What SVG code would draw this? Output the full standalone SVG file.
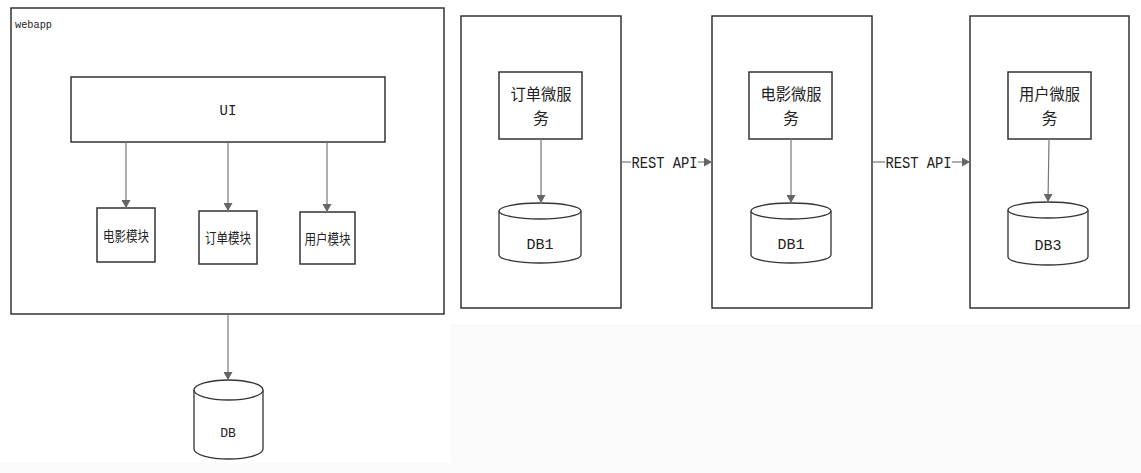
<svg xmlns="http://www.w3.org/2000/svg" width="1141" height="473" viewBox="0 0 1141 473">
<defs>
<marker id="arr" markerWidth="8" markerHeight="9" refX="8" refY="4.5" orient="auto" markerUnits="userSpaceOnUse">
<path d="M0,0 L8,4.5 L0,9 Z" fill="#666"/>
</marker>
<style>
.box{fill:#fff;stroke:#333;stroke-width:1.5}
.cyl{fill:#fff;stroke:#333;stroke-width:1.3}
.conn{fill:none;stroke:#777;stroke-width:1.2}
.mono{font-family:"Liberation Mono","DejaVu Sans Mono",monospace;fill:#222}
.cjk{font-family:"Noto Sans CJK SC","Noto Sans",sans-serif;fill:#222}
</style>
</defs>
<rect width="1141" height="473" fill="#fff"/>
<rect x="450" y="324" width="691" height="149" fill="#fafafa"/>
<rect x="0" y="463" width="450" height="10" fill="#fafafa"/>

<g id="webapp">
<rect class="box" x="11" y="8" width="433" height="306"/>
<text class="mono" x="15" y="28" font-size="11" textLength="37" lengthAdjust="spacingAndGlyphs">webapp</text>
</g>
<g id="ui">
<rect class="box" x="71" y="77" width="314" height="65"/>
<text class="mono" x="228" y="115" font-size="14" text-anchor="middle">UI</text>
</g>
<g id="mod-movie">
<rect class="box" x="97" y="208" width="58" height="54"/>
<text class="cjk" x="126" y="241" font-size="14" text-anchor="middle" textLength="46" lengthAdjust="spacingAndGlyphs">电影模块</text>
</g>
<g id="mod-order">
<rect class="box" x="199" y="211" width="58" height="53"/>
<text class="cjk" x="228" y="243" font-size="14" text-anchor="middle" textLength="46" lengthAdjust="spacingAndGlyphs">订单模块</text>
</g>
<g id="mod-user">
<rect class="box" x="300" y="212" width="55" height="52"/>
<text class="cjk" x="327.5" y="244" font-size="14" text-anchor="middle" textLength="46" lengthAdjust="spacingAndGlyphs">用户模块</text>
</g>
<g id="db">
<path class="cyl" d="M194,390 L194,449 A34.5,10 0 0 0 263,449 L263,390"/>
<ellipse class="cyl" cx="228.5" cy="390" rx="34.5" ry="10"/>
<text class="mono" x="228" y="437" font-size="13" text-anchor="middle">DB</text>
</g>

<g id="svc-order">
<rect class="box" x="461" y="16" width="160" height="292"/>
<rect class="box" x="499" y="72" width="83" height="67"/>
<text class="cjk" x="541" y="100" font-size="16" text-anchor="middle" textLength="61" lengthAdjust="spacingAndGlyphs">订单微服</text>
<text class="cjk" x="541" y="124" font-size="16" text-anchor="middle">务</text>
</g>
<g id="db1-order">
<path class="cyl" d="M499,211 L499,255 A41,8 0 0 0 581,255 L581,211"/>
<ellipse class="cyl" cx="540" cy="211" rx="41" ry="8"/>
<text class="mono" x="540" y="249" font-size="15" text-anchor="middle">DB1</text>
</g>

<g id="svc-movie">
<rect class="box" x="712" y="16" width="160" height="292"/>
<rect class="box" x="749" y="72" width="83" height="67"/>
<text class="cjk" x="791" y="100" font-size="16" text-anchor="middle" textLength="61" lengthAdjust="spacingAndGlyphs">电影微服</text>
<text class="cjk" x="791" y="124" font-size="16" text-anchor="middle">务</text>
</g>
<g id="db1-movie">
<path class="cyl" d="M751,211 L751,255 A40,8 0 0 0 831,255 L831,211"/>
<ellipse class="cyl" cx="791" cy="211" rx="40" ry="8"/>
<text class="mono" x="791" y="249" font-size="15" text-anchor="middle">DB1</text>
</g>

<g id="svc-user">
<rect class="box" x="970" y="16" width="159" height="292"/>
<rect class="box" x="1008" y="72" width="83" height="67"/>
<text class="cjk" x="1049.5" y="100" font-size="16" text-anchor="middle" textLength="61" lengthAdjust="spacingAndGlyphs">用户微服</text>
<text class="cjk" x="1049.5" y="124" font-size="16" text-anchor="middle">务</text>
</g>
<g id="db3-user">
<path class="cyl" d="M1008,210 L1008,257 A40,8 0 0 0 1088,257 L1088,210"/>
<ellipse class="cyl" cx="1048" cy="210" rx="40" ry="8"/>
<text class="mono" x="1048" y="250" font-size="15" text-anchor="middle">DB3</text>
</g>

<g id="connectors">
<line class="conn" x1="126" y1="142" x2="126" y2="208" marker-end="url(#arr)"/>
<line class="conn" x1="228" y1="142" x2="228" y2="211" marker-end="url(#arr)"/>
<line class="conn" x1="327" y1="142" x2="327" y2="212" marker-end="url(#arr)"/>
<line class="conn" x1="228" y1="314" x2="228" y2="380" marker-end="url(#arr)"/>
<line class="conn" x1="541" y1="139" x2="541" y2="203" marker-end="url(#arr)"/>
<line class="conn" x1="791" y1="139" x2="791" y2="203" marker-end="url(#arr)"/>
<line class="conn" x1="1049" y1="139" x2="1048" y2="202" marker-end="url(#arr)"/>
<line class="conn" x1="621" y1="162" x2="631" y2="162"/>
<line class="conn" x1="698" y1="162" x2="712" y2="162" marker-end="url(#arr)"/>
<text class="mono" x="664.5" y="168" font-size="16" text-anchor="middle" textLength="66" lengthAdjust="spacingAndGlyphs">REST API</text>
<line class="conn" x1="872" y1="162" x2="885" y2="162"/>
<line class="conn" x1="952" y1="162" x2="970" y2="162" marker-end="url(#arr)"/>
<text class="mono" x="918.5" y="168" font-size="16" text-anchor="middle" textLength="66" lengthAdjust="spacingAndGlyphs">REST API</text>
</g>
</svg>
